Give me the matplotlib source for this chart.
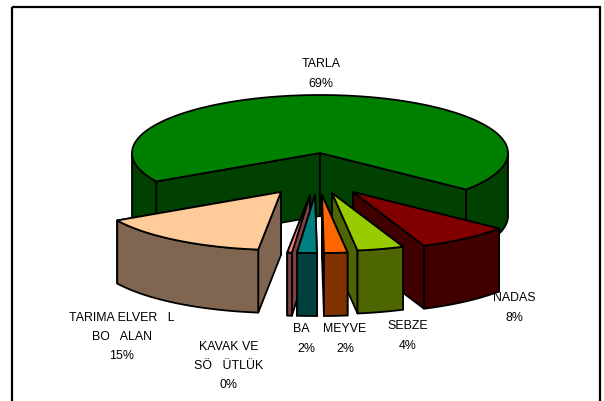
import numpy as np
import matplotlib
matplotlib.use("Agg")
import matplotlib.pyplot as plt
from matplotlib.patches import Rectangle

plt.rcParams["font.family"] = ["Liberation Sans", "DejaVu Sans"]

# Labels keep the gaps where the Turkish letters were lost in the original
labels = ["NADAS", "SEBZE", "MEYVE", "BA   ", "KAVAK VE\nSÖ   ÜTLÜK", "TARIMA ELVER   L\nBO   ALAN", "TARLA"]
values = [8, 4, 2, 1.7, 0.4, 14.9, 69]
top_colors = ["#800000", "#99CC00", "#FF6600", "#008080", "#FF8080", "#FFCC99", "#008000"]
side_colors = ["#400000", "#4D6600", "#803300", "#004040", "#804040", "#806650", "#004000"]

# How far each slice is pulled out of the pie, in pixels
explode_x = [33, 12, 2, -5, -10, -39, 0]
explode_y = [39, 40, 42, 42, 42, 39, 0]

label_x = [514, 408, 345, 306, 229, 122, 321]
label_y = [308, 336, 339, 339, 366, 337, 74]

draw_order = [6, 5, 0, 4, 3, 1, 2]

CX, CY = 320, 153
RX, RY = 188, 58
DEPTH = 63
START = 39


def rim(a, ox, oy):
    t = np.radians(a)
    return CX + ox + RX * np.cos(t), CY + oy + RY * np.sin(t)


def face(ax, xs, ys, color):
    ax.fill(xs, ys, facecolor=color, edgecolor="black", linewidth=1.3, joinstyle="round")


def cut_wall(ax, a, ox, oy, color):
    x, y = rim(a, ox, oy)
    tx, ty = CX + ox, CY + oy
    face(ax, [tx, x, x, tx], [ty, y, y + DEPTH, ty + DEPTH], color)


def draw_slice(ax, a0, a1, ox, oy, top, side):
    # hidden cut wall goes first so the top and outer wall cover it
    mid = (a0 + a1) / 2
    if np.cos(np.radians(mid)) > 0:
        cut_wall(ax, a0, ox, oy, side)
        cut_wall(ax, a1, ox, oy, side)
    else:
        cut_wall(ax, a1, ox, oy, side)
        cut_wall(ax, a0, ox, oy, side)

    # outer wall, only the part that faces the viewer
    for lo, hi in [(a0, min(a1, 180)), (max(a0, 360), a1)]:
        if hi > lo:
            t = np.linspace(lo, hi, 60)
            x, y = rim(t, ox, oy)
            face(ax, np.r_[x, x[::-1]], np.r_[y, y[::-1] + DEPTH], side)

    t = np.linspace(a0, a1, 120)
    x, y = rim(t, ox, oy)
    face(ax, np.r_[CX + ox, x], np.r_[CY + oy, y], top)


def main():
    fig = plt.figure(figsize=(6.04, 4.01), dpi=100)
    ax = fig.add_axes([0, 0, 1, 1])
    ax.set_xlim(0, 604)
    ax.set_ylim(401, 0)
    ax.axis("off")

    # chart frame, the bottom edge runs off the picture
    ax.add_patch(Rectangle((12, 7), 588, 410, fill=False, edgecolor="black", linewidth=1.6))

    edges = START + np.cumsum([0] + values) * 3.6
    for i in draw_order:
        draw_slice(ax, edges[i], edges[i + 1], explode_x[i], explode_y[i], top_colors[i], side_colors[i])

    for i, name in enumerate(labels):
        ax.text(label_x[i], label_y[i], f"{name}\n{round(values[i])}%", ha="center", va="center",
                fontsize=8.9, linespacing=1.8, color="black")

    fig.savefig("out.png", dpi=100)
    plt.close(fig)


if __name__ == "__main__":
    main()
